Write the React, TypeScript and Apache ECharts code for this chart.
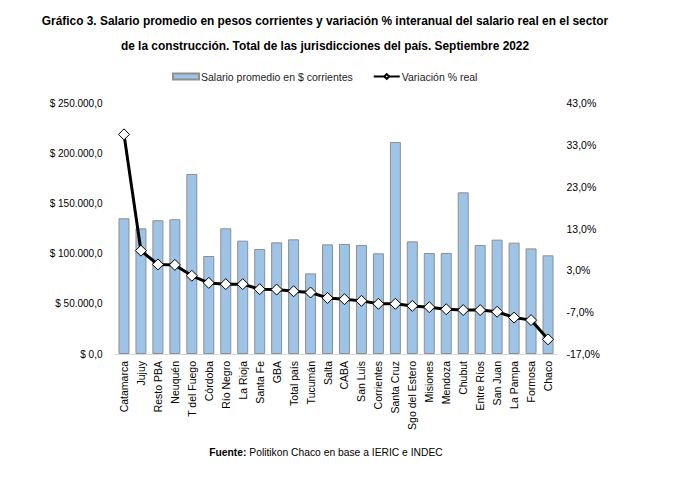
import React, { useEffect, useRef } from "react";
import * as echarts from "echarts";

const categories = [
  "Catamarca", "Jujuy", "Resto PBA", "Neuquén", "T del Fuego", "Córdoba", "Río Negro",
  "La Rioja", "Santa Fe", "GBA", "Total país", "Tucumán", "Salta", "CABA", "San Luis",
  "Corrientes", "Santa Cruz", "Sgo del Estero", "Misiones", "Mendoza", "Chubut",
  "Entre Ríos", "San Juan", "La Pampa", "Formosa", "Chaco",
];

const salario = [
  135200, 125200, 133200, 134200, 179300, 97600, 125200, 112900, 104600, 111200, 114200,
  80300, 109200, 109600, 108600, 100300, 211200, 112200, 100600, 100600, 161000, 108600,
  113900, 110900, 105200, 98300,
];

const variacion = [
  35.5, 7.7, 4.4, 4.3, 1.7, 0.0, -0.3, -0.3, -1.5, -1.6, -2.0, -2.3, -3.6, -3.9, -4.3,
  -5.0, -5.0, -5.5, -5.8, -6.3, -6.5, -6.5, -6.9, -8.3, -8.9, -13.5,
];

const titleLines = [
  "Gráfico 3. Salario promedio en pesos corrientes y variación % interanual del salario real en el sector",
  "de la construcción. Total de las jurisdicciones del país. Septiembre 2022",
];

const rightMin = -17;
const rightMax = 43;
const rightStep = 10;

const FONT = "'Liberation Sans', Arial, sans-serif";

function fmtPesos(v: number) {
  const s = Math.round(v).toString().replace(/\B(?=(\d{3})+(?!\d))/g, ".");
  return "$ " + s + ",0";
}

export default function App() {
  const ref = useRef<HTMLDivElement>(null);
  useEffect(() => {
    if (!ref.current) return;
    const chart = echarts.init(ref.current, null, { renderer: "svg" });
    chart.setOption({
      animation: false,
      backgroundColor: "#ffffff",
      textStyle: { fontFamily: FONT },
      legend: {
        top: 66,
        left: 167,
        itemGap: 20,
        itemWidth: 26,
        itemHeight: 6,
        textStyle: { fontFamily: FONT, fontSize: 10.5, color: "#222", padding: [0, 0, 0, -3] },
        data: [
          { name: "Salario promedio en $ corrientes", icon: "rect" },
          { name: "Variación % real" },
        ],
      },
      graphic: [
        ...titleLines.map((t, i) => ({
          type: "text",
          x: 325,
          y: 15 + i * 25,
          style: {
            text: t,
            fontFamily: FONT,
            fontSize: 11.9,
            fontWeight: "bold",
            fill: "#000",
            align: "center",
          },
        })),
        {
          type: "text",
          x: 326,
          y: 447,
          style: {
            text: "{b|Fuente:} Politikon Chaco en base a IERIC e INDEC",
            fontFamily: FONT,
            fontSize: 10.3,
            fill: "#000",
            align: "center",
            rich: { b: { fontWeight: "bold", fontFamily: FONT, fontSize: 10.3 } },
          },
        },
      ],
      grid: { left: 115.5, right: 140.5, top: 103, bottom: 129, containLabel: false },
      xAxis: {
        type: "category",
        data: categories,
        axisLine: { show: true, lineStyle: { color: "#d9d9d9", width: 1 } },
        axisTick: { show: false },
        axisLabel: { rotate: 90, interval: 0, fontSize: 10.5, color: "#000", margin: 7, fontFamily: FONT },
      },
      yAxis: [
        {
          type: "value",
          min: 0,
          max: 250000,
          interval: 50000,
          splitLine: { show: false },
          axisLine: { show: false },
          axisTick: { show: false },
          axisLabel: { fontSize: 10, color: "#000", margin: 13, fontFamily: FONT, formatter: (v: number) => fmtPesos(v) },
        },
        {
          type: "value",
          min: 0,
          max: rightMax - rightMin,
          interval: rightStep,
          splitLine: { show: false },
          axisLine: { show: false },
          axisTick: { show: false },
          axisLabel: {
            fontSize: 10.5,
            color: "#000",
            margin: 10,
            fontFamily: FONT,
            formatter: (v: number) => (v + rightMin).toFixed(1).replace(".", ",") + "%",
          },
        },
      ],
      series: [
        {
          name: "Salario promedio en $ corrientes",
          type: "bar",
          data: salario,
          barWidth: 11,
          itemStyle: { color: "#9dc3e6", borderColor: "#8f8f8f", borderWidth: 1 },
        },
        {
          name: "Variación % real",
          type: "line",
          yAxisIndex: 1,
          data: variacion.map((v) => v - rightMin),
          symbol: "diamond",
          symbolSize: 11,
          lineStyle: { color: "#000", width: 3 },
          itemStyle: { color: "#ffffff", borderColor: "#000", borderWidth: 1 },
        },
      ],
    });
    return () => chart.dispose();
  }, []);
  return (
    <div
      ref={ref}
      style={{ position: "fixed", left: 0, top: 0, width: 697, height: 483, background: "#fff" }}
    />
  );
}
